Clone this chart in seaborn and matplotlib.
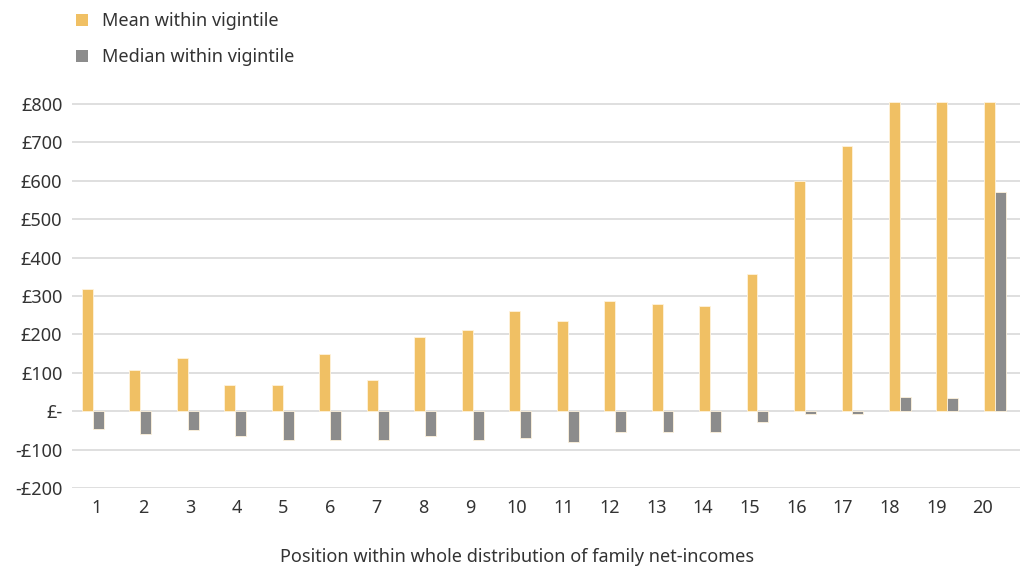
import matplotlib
matplotlib.use("Agg")
import matplotlib.pyplot as plt
from matplotlib.patches import Patch
import seaborn as sns
import pandas as pd
import numpy as np

vigintiles = [str(i) for i in range(1, 21)]
mean_vals = [318, 106, 139, 67, 67, 148, 82, 193, 212, 260, 236, 288, 279, 274, 357, 600, 690, 805, 805, 805]
median_vals = [-46, -60, -50, -64, -75, -75, -75, -65, -75, -70, -80, -55, -55, -55, -27, -7, -7, 38, 34, 572]
series_names = ["Mean within vigintile", "Median within vigintile"]
ytick_vals = [-200, -100, 0, 100, 200, 300, 400, 500, 600, 700, 800]
ytick_labels = ["-£200", "-£100", "£-", "£100", "£200", "£300", "£400", "£500", "£600", "£700", "£800"]
xlabel = "Position within whole distribution of family net-incomes"

colors = ["#F0C064", "#8C8C8C"]

df = pd.DataFrame({
    "vigintile": vigintiles * 2,
    "value": mean_vals + median_vals,
    "series": [series_names[0]] * 20 + [series_names[1]] * 20,
})

sns.set_theme(style="white")
plt.rcParams["font.family"] = ["Noto Sans", "DejaVu Sans"]
text_color = "#333333"

fig = plt.figure(figsize=(10.27, 5.70), dpi=100)
ax = fig.add_axes([0.0701, 0.1439, 0.9231, 0.6803])

sns.barplot(data=df, x="vigintile", y="value", hue="series", order=vigintiles,
            palette=colors, saturation=1, width=0.46, ax=ax, legend=False,
            edgecolor="#FFF3DC", linewidth=0.6, zorder=3)

ax.set_ylim(-200, 810)
ax.set_xlim(-0.44, 19.53)
ax.set_yticks(ytick_vals)
ax.set_yticklabels(ytick_labels)
# tick labels sit on a slightly different spacing than the bar groups, as in the original
ax.set_xticks(0.084 + 0.9823 * np.arange(len(vigintiles)))
ax.set_xticklabels(vigintiles)
ax.yaxis.grid(True, color="#D9D9D9", linewidth=1.2, zorder=0)
ax.set_axisbelow(True)
for s in ax.spines.values():
    s.set_visible(False)
ax.tick_params(axis="both", length=0, labelsize=13, colors=text_color)
ax.tick_params(axis="y", pad=7)
ax.tick_params(axis="x", pad=8)
ax.set_ylabel("")
ax.set_xlabel("")
fig.text(517 / 1027, 1 - 557 / 570, xlabel, ha="center", va="center",
         fontsize=13, color=text_color)

handles = [Patch(facecolor=c, edgecolor="none") for c in colors]
fig.legend(handles, series_names, loc="upper left", bbox_to_anchor=(0.058, 1.007),
           frameon=False, fontsize=13, handlelength=0.7, handleheight=0.7,
           handletextpad=0.75, labelspacing=1.0, labelcolor=text_color)

fig.savefig("out.png", dpi=100)
